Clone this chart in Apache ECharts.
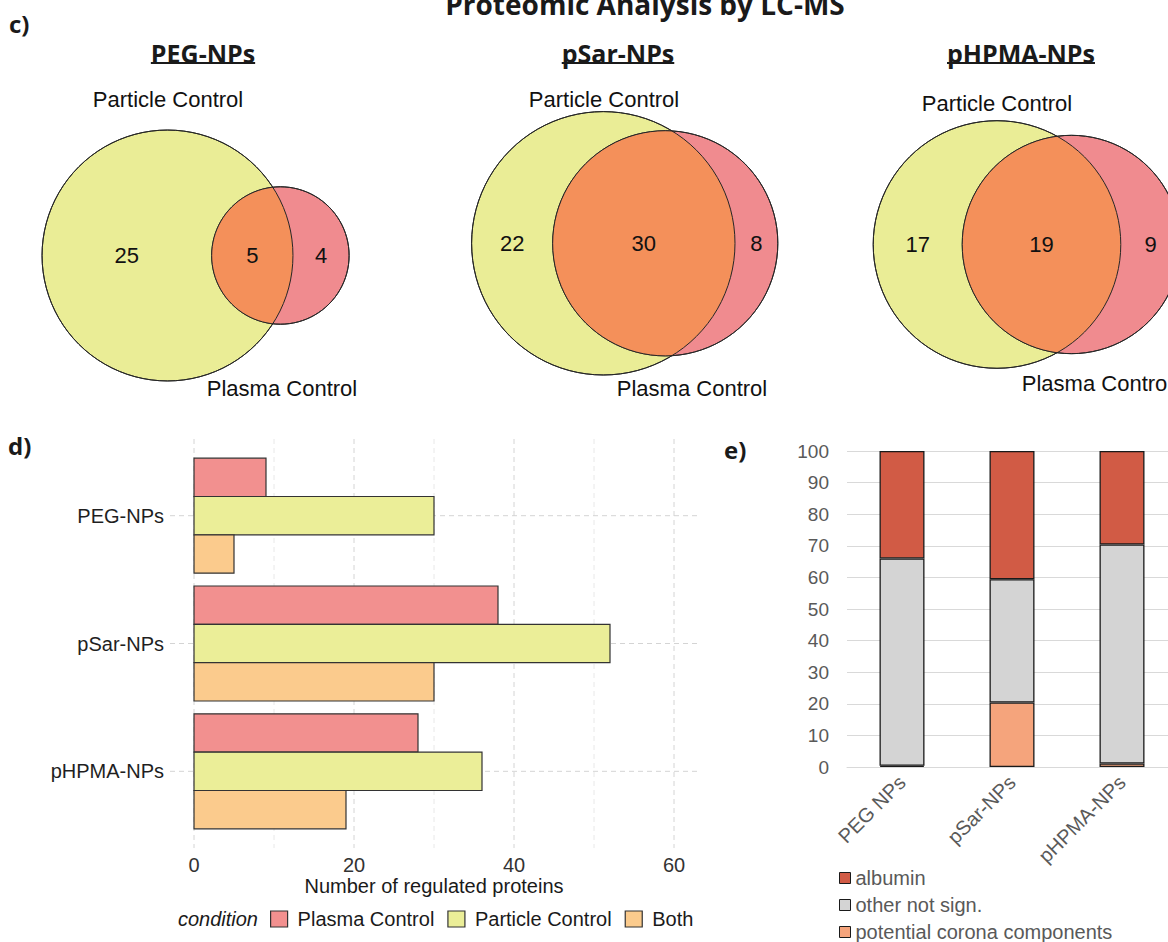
<!DOCTYPE html>
<html><head><meta charset="utf-8">
<script src="https://cdn.jsdelivr.net/npm/echarts@6.0.0/dist/echarts.min.js"></script>
<style>html,body{margin:0;padding:0;background:#fff}#chart{width:1168px;height:942px}</style>
</head><body><div id="chart"></div>
<script>
// ---------- data ----------
const vennGroups = ['PEG-NPs', 'pSar-NPs', 'pHPMA-NPs'];
const vennParticleOnly = [25, 22, 17];
const vennBoth = [5, 30, 19];
const vennPlasmaOnly = [4, 8, 9];

const dCategories = ['PEG-NPs', 'pSar-NPs', 'pHPMA-NPs'];
const dPlasmaControl = [9, 38, 28];
const dParticleControl = [30, 52, 36];
const dBoth = [5, 30, 19];
const dXTicks = [0, 20, 40, 60];
const dXGrid = [0, 10, 20, 30, 40, 50, 60];

const eCategories = ['PEG NPs', 'pSar-NPs', 'pHPMA-NPs'];
const eAlbumin = [34.0, 40.6, 29.6];
const eOtherNotSign = [65.6, 39.0, 69.3];
const eCorona = [0.4, 20.4, 1.1];

// ---------- layout / style ----------
const FONT = '"Liberation Sans", Arial, sans-serif';
const HEAD = '"Open Sans", "Noto Sans", sans-serif';
const YEL = '#EAED96', PINK = '#F08B8F', ORANGE = '#F4905A';
const D_COLORS = ['#F2908F', '#EBEE98', '#FBCB8D'];
const D_NAMES = ['Plasma Control', 'Particle Control', 'Both'];
const vennLayout = [
  {cx: 167.5, cy: 255.5, s: 40.6, particle: [168, 99], plasma: [282, 388]},
  {cx: 603.3, cy: 243.3, s: 32.37, particle: [604, 99], plasma: [692, 388]},
  {cx: 997, cy: 244.5, s: 36.57, particle: [997, 103], plasma: [1097, 383]}
];
const VX = [-3.5, 4.5], VY = [-4, 4];
const DX = [-3, 63], DY = [0.4, 3.6];

function lensArea(r1, r2, d) {
  if (d >= r1 + r2) return 0;
  if (d <= Math.abs(r1 - r2)) return Math.PI * Math.pow(Math.min(r1, r2), 2);
  const a1 = Math.acos((d * d + r1 * r1 - r2 * r2) / (2 * d * r1));
  const a2 = Math.acos((d * d + r2 * r2 - r1 * r1) / (2 * d * r2));
  return r1 * r1 * a1 + r2 * r2 * a2 -
    0.5 * Math.sqrt((-d + r1 + r2) * (d + r1 - r2) * (d - r1 + r2) * (d + r1 + r2));
}
function solveDistance(r1, r2, target) {
  let lo = Math.abs(r1 - r2), hi = r1 + r2;
  for (let i = 0; i < 80; i++) {
    const mid = (lo + hi) / 2;
    if (lensArea(r1, r2, mid) > target) lo = mid; else hi = mid;
  }
  return (lo + hi) / 2;
}

function vennRender(params, api) {
  const aOnly = api.value(0), ab = api.value(1), bOnly = api.value(2);
  const rA = Math.sqrt((aOnly + ab) / Math.PI), rB = Math.sqrt((bOnly + ab) / Math.PI);
  const d = solveDistance(rA, rB, ab);
  const p1 = api.coord([0, 0]), p2 = api.coord([d, 0]);
  const unit = api.size([1, 1])[0];
  const R1 = rA * unit, R2 = rB * unit, D = p2[0] - p1[0];
  const a = (D * D + R1 * R1 - R2 * R2) / (2 * D);
  const h = Math.sqrt(Math.max(0, R1 * R1 - a * a));
  const tx = p1[0] + a, ty = p1[1] - h, by = p1[1] + h;
  const lens = 'M' + tx + ' ' + ty +
    ' A' + R1 + ' ' + R1 + ' 0 ' + (a < 0 ? 1 : 0) + ' 1 ' + tx + ' ' + by +
    ' A' + R2 + ' ' + R2 + ' 0 ' + ((D - a) < 0 ? 1 : 0) + ' 1 ' + tx + ' ' + ty + ' Z';
  const lx = [(-rA + d - rB) / 2, (d - rB + rA) / 2, (rA + d + rB) / 2];
  const vals = [aOnly, ab, bOnly];
  const stroke = '#262626';
  const children = [
    {type: 'circle', shape: {cx: p1[0], cy: p1[1], r: R1}, style: {fill: YEL, stroke: stroke, lineWidth: 1}},
    {type: 'circle', shape: {cx: p2[0], cy: p2[1], r: R2}, style: {fill: PINK, stroke: stroke, lineWidth: 1}},
    {type: 'path', shape: {pathData: lens}, style: {fill: ORANGE, stroke: null}},
    {type: 'circle', shape: {cx: p1[0], cy: p1[1], r: R1}, style: {fill: null, stroke: stroke, lineWidth: 1}},
    {type: 'circle', shape: {cx: p2[0], cy: p2[1], r: R2}, style: {fill: null, stroke: stroke, lineWidth: 1}}
  ];
  lx.forEach(function (x, i) {
    const p = api.coord([x, 0]);
    children.push({type: 'text', x: p[0], y: p[1], style: {text: String(vals[i]), fontSize: 22, fontFamily: FONT,
      fill: '#111', align: 'center', verticalAlign: 'middle'}});
  });
  return {type: 'group', children: children};
}

function makeBarRender(k) {
  return function (params, api) {
    const v = api.value(0), c = api.value(1);
    const yc = c + (k - 1) * 0.3;
    const p0 = api.coord([0, yc - 0.15]);
    const p1 = api.coord([v, yc + 0.15]);
    return {type: 'rect', shape: {x: Math.min(p0[0], p1[0]), y: Math.min(p0[1], p1[1]),
      width: Math.abs(p1[0] - p0[0]), height: Math.abs(p1[1] - p0[1])},
      style: {fill: D_COLORS[k], stroke: '#333', lineWidth: 1.2}};
  };
}
function gridRender(params, api) {
  const v = api.value(0), kind = api.value(1), major = api.value(2);
  let p0, p1;
  if (kind === 0) { p0 = api.coord([v, DY[0]]); p1 = api.coord([v, DY[1]]); }
  else { p0 = api.coord([DX[0], v]); p1 = api.coord([DX[1], v]); }
  return {type: 'line', shape: {x1: p0[0], y1: p0[1], x2: p1[0], y2: p1[1]},
    style: {stroke: major ? '#d4d4d4' : '#e2e2e2', lineWidth: major ? 1 : 0.8, lineDash: [5, 4]}};
}

const grids = [], xAxes = [], yAxes = [], series = [];
vennLayout.forEach(function (L, i) {
  grids.push({left: L.cx + VX[0] * L.s, top: L.cy - VY[1] * L.s,
    width: (VX[1] - VX[0]) * L.s, height: (VY[1] - VY[0]) * L.s, containLabel: false, outerBoundsMode: 'none'});
  xAxes.push({type: 'value', gridIndex: i, min: VX[0], max: VX[1], show: false});
  yAxes.push({type: 'value', gridIndex: i, min: VY[0], max: VY[1], show: false});
  series.push({type: 'custom', name: vennGroups[i], xAxisIndex: i, yAxisIndex: i, clip: false, silent: true,
    renderItem: vennRender, data: [[vennParticleOnly[i], vennBoth[i], vennPlasmaOnly[i]]]});
});

// panel d
grids.push({left: 170, top: 439, width: 528, height: 409, outerBoundsMode: 'none'});
xAxes.push({type: 'value', gridIndex: 3, min: DX[0], max: DX[1],
  name: 'Number of regulated proteins', nameLocation: 'middle', nameGap: 26,
  nameTextStyle: {fontSize: 20, color: '#1a1a1a', fontFamily: FONT},
  axisLine: {show: false}, axisTick: {show: false}, splitLine: {show: false},
  axisLabel: {customValues: dXTicks, fontSize: 20, color: '#333', margin: 7, fontFamily: FONT}});
yAxes.push({type: 'value', gridIndex: 3, min: DY[0], max: DY[1], inverse: true,
  axisLine: {show: false}, axisTick: {show: false}, splitLine: {show: false},
  axisLabel: {customValues: [1, 2, 3], fontSize: 20, color: '#1f1f1f', margin: 6, fontFamily: FONT,
    formatter: function (v) { return dCategories[Math.round(v) - 1] || ''; }}});
const gridData = dXGrid.map(function (v) { return [v, 0, v % 20 === 0 ? 1 : 0]; })
  .concat(dCategories.map(function (c, i) { return [i + 1, 1, 1]; }));
series.push({type: 'custom', name: 'grid', xAxisIndex: 3, yAxisIndex: 3, silent: true, z: 1, clip: false,
  renderItem: gridRender, data: gridData});
[dPlasmaControl, dParticleControl, dBoth].forEach(function (arr, k) {
  series.push({type: 'custom', name: D_NAMES[k], xAxisIndex: 3, yAxisIndex: 3, z: 2, clip: false,
    itemStyle: {color: D_COLORS[k], borderColor: '#333', borderWidth: 1.2},
    renderItem: makeBarRender(k), data: arr.map(function (v, i) { return [v, i + 1]; })});
});

// panel e
grids.push({left: 847, top: 451, width: 330, height: 316, outerBoundsMode: 'none'});
xAxes.push({type: 'category', gridIndex: 4, data: eCategories,
  axisLine: {show: true, lineStyle: {color: '#d9d9d9'}}, axisTick: {show: false},
  axisLabel: {rotate: 45, interval: 0, fontSize: 20, color: '#595959', margin: 12, fontFamily: FONT}});
yAxes.push({type: 'value', gridIndex: 4, min: 0, max: 100, interval: 10,
  axisLine: {show: false}, axisTick: {show: false},
  splitLine: {show: true, lineStyle: {color: '#d9d9d9', width: 1}},
  axisLabel: {fontSize: 19, color: '#595959', margin: 18, fontFamily: FONT}});
const E_SERIES = [
  {name: 'potential corona components', data: eCorona, color: '#F5A47C'},
  {name: 'other not sign.', data: eOtherNotSign, color: '#D4D4D4'},
  {name: 'albumin', data: eAlbumin, color: '#D15B45'}
];
E_SERIES.forEach(function (s) {
  series.push({type: 'bar', name: s.name, stack: 'e', xAxisIndex: 4, yAxisIndex: 4, barWidth: 45,
    data: s.data, itemStyle: {color: s.color, borderColor: '#1a1a1a', borderWidth: 1.3}, silent: true});
});

// headings
const mctx = document.createElement('canvas').getContext('2d');
function tw(t, font) { mctx.font = font; return mctx.measureText(t).width; }
const graphics = [];
function addText(t, x, y, size, weight, align, family, color, style) {
  graphics.push({type: 'text', x: x, y: y, silent: true, style: {text: t, fontSize: size, fontWeight: weight,
    fontStyle: style || 'normal', fontFamily: family, fill: color || '#1a1a1a', align: align, verticalAlign: 'middle'}});
}
addText('Proteomic Analysis by LC-MS', 645, 4, 28, 'bold', 'center', HEAD, '#1a1a1a');
addText('c)', 9, 23, 24, 'bold', 'left', HEAD, '#1a1a1a');
addText('d)', 8, 445, 24, 'bold', 'left', HEAD, '#1a1a1a');
addText('e)', 724, 449, 24, 'bold', 'left', HEAD, '#1a1a1a');
const titleX = [203, 618, 1021];
vennGroups.forEach(function (g, i) {
  addText(g, titleX[i], 53, 25, 'bold', 'center', HEAD, '#1a1a1a');
  const w = tw(g, 'bold 25px "Open Sans"');
  graphics.push({type: 'line', silent: true, shape: {x1: titleX[i] - w / 2, y1: 63, x2: titleX[i] + w / 2, y2: 63},
    style: {stroke: '#1a1a1a', lineWidth: 2}});
  const L = vennLayout[i];
  addText('Particle Control', L.particle[0], L.particle[1], 22, 'normal', 'center', FONT, '#111');
  addText('Plasma Control', L.plasma[0], L.plasma[1], 22, 'normal', 'center', FONT, '#111');
});
addText('condition', 258, 919, 20, 'normal', 'right', FONT, '#1a1a1a', 'italic');

const option = {
  animation: false,
  backgroundColor: '#fff',
  textStyle: {fontFamily: FONT},
  grid: grids, xAxis: xAxes, yAxis: yAxes, series: series,
  legend: [
    {orient: 'horizontal', left: 270, top: 909, padding: 0, itemWidth: 17, itemHeight: 16, itemGap: 13, icon: 'rect',
      selectedMode: false, textStyle: {fontSize: 20, color: '#1a1a1a', fontFamily: FONT, padding: [0, 0, 0, 5]},
      data: D_NAMES.map(function (n, k) { return {name: n, itemStyle: {color: D_COLORS[k], borderColor: '#333', borderWidth: 1.2}}; })},
    {orient: 'vertical', left: 839, top: 868, padding: 0, itemWidth: 11, itemHeight: 11, itemGap: 7, icon: 'rect',
      selectedMode: false, textStyle: {fontSize: 20, lineHeight: 20, color: '#595959', fontFamily: FONT},
      data: E_SERIES.slice().reverse().map(function (s) { return {name: s.name, itemStyle: {color: s.color, borderColor: '#1a1a1a', borderWidth: 1}}; })}
  ],
  graphic: graphics
};
const chart = echarts.init(document.getElementById('chart'), null, {renderer: 'svg'});
chart.setOption(option);
</script></body></html>
